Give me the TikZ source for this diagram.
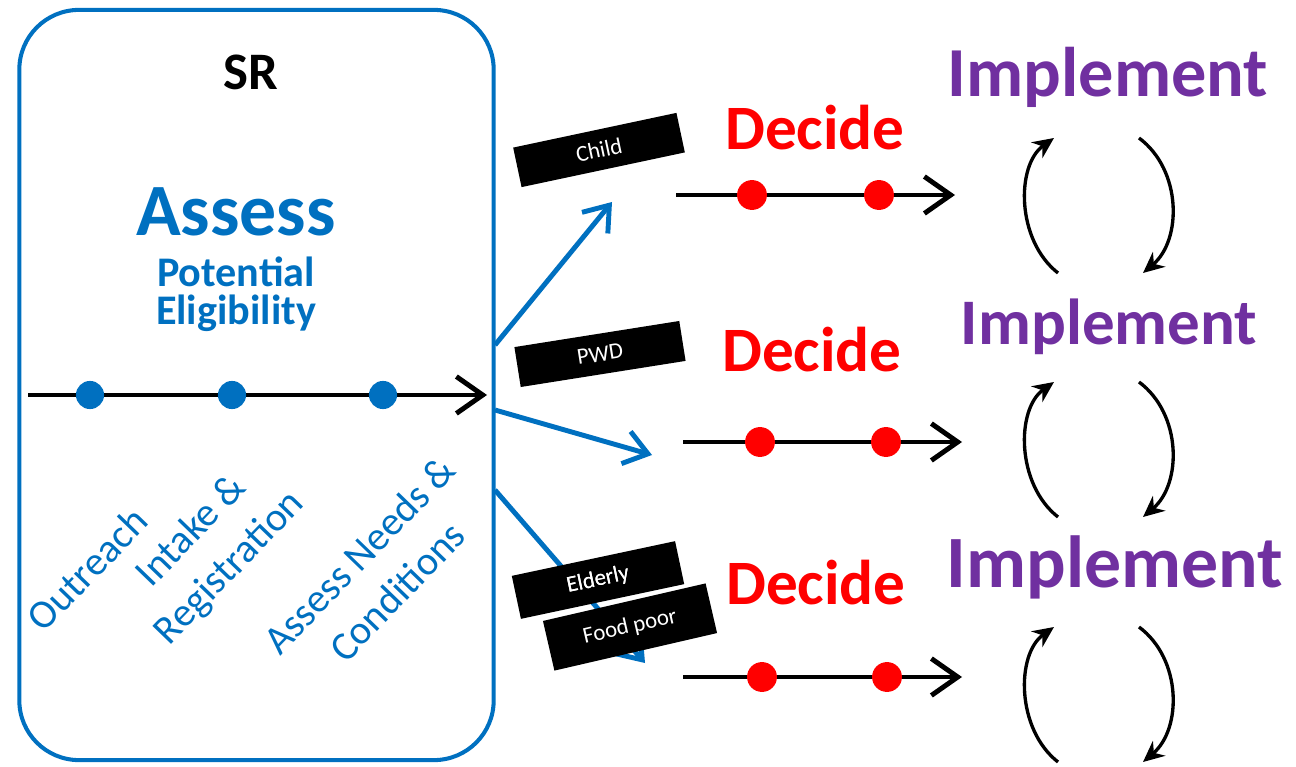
\documentclass[tikz,border=0pt]{standalone}
\usepackage{fontspec}
\setmainfont{Carlito}
\usetikzlibrary{arrows.meta}

\definecolor{srblue}{HTML}{0070C0}
\definecolor{decred}{HTML}{FF0000}
\definecolor{implpurple}{HTML}{7030A0}

\begin{document}
\begin{tikzpicture}[x=0.02cm, y=-0.02cm,
    flow/.style={line width=2.8pt, -{Straight Barb[length=15pt,width=21pt]}},
    branch/.style={draw=srblue, line width=2.8pt, -{Straight Barb[length=13pt,width=19pt]}},
    cycle/.style={line width=1.9pt, -{Stealth[length=12pt,width=11pt]}},
    bluedot/.style={circle, fill=srblue, inner sep=0pt, minimum size=16pt},
    reddot/.style={circle, fill=decred, inner sep=0pt, minimum size=17pt},
    tagbox/.style={fill=black, text=white, inner sep=0pt, minimum width=95pt,
      minimum height=23pt, font=\fontsize{13}{15}\selectfont},
    steplabel/.style={text=srblue, rotate=46, align=center,
      font=\fontsize{23}{30}\selectfont},
    decide/.style={text=decred, font=\bfseries\fontsize{36}{40}\selectfont},
    implement/.style={text=implpurple, font=\bfseries\fontsize{#1}{44}\selectfont}]
  \useasboundingbox (0,0) rectangle (1296,767);

  % SR box
  \node[draw=srblue, line width=2.3pt, rounded corners=34pt,
        minimum width=270pt, minimum height=427pt] (sr) at (256.5,385) {};
  \node[font=\bfseries\fontsize{30}{34}\selectfont] (srtitle) at (251,72) {SR};
  \node[text=srblue, font=\bfseries\fontsize{42}{46}\selectfont] (assess) at (236,212) {Assess};
  \node[text=srblue, font=\bfseries\fontsize{24}{28}\selectfont] (potential) at (236,272) {Potential};
  \node[text=srblue, font=\bfseries\fontsize{24}{28}\selectfont] (elig) at (236,313) {Eligibility};

  % timeline
  \coordinate (tlstart) at (28,395);
  \coordinate (tlend) at (487,395);
  \draw[flow] (tlstart) -- (tlend);
  \node[bluedot] (outdot) at (90,395) {};
  \node[bluedot] (intdot) at (232,395) {};
  \node[bluedot] (needdot) at (383,395) {};

  \node[steplabel] (outreach) at (87,569) {Outreach};
  \node[steplabel] (intake) at (211,550) {Intake \&\\Registration};
  \node[steplabel] (needs) at (378,573) {Assess Needs \&\\Conditions};

  % branches
  \coordinate (b1) at (495,345);
  \coordinate (b2) at (495,410);
  \coordinate (b3) at (495,490);
  \coordinate (e1) at (612,202);
  \coordinate (e2) at (652,455);
  \coordinate (e3) at (645,663);
  \draw[branch] (b1) -- (e1);
  \draw[branch] (b2) -- (e2);
  \draw[branch] (b3) -- (e3);

  \node[tagbox, rotate=12] (child) at (599,150) {Child};
  \node[tagbox, rotate=9] (pwd) at (600,354) {PWD};
  \node[tagbox, rotate=12, minimum height=25pt] (elderly) at (598,580) {Elderly};
  \node[tagbox, rotate=13, minimum height=29pt] (food) at (630,627) {Food poor};
  \node[text=white, rotate=12, font=\fontsize{13}{15}\selectfont] at (elderly) {Elderly};

  % decide lines
  \node[decide] (dec1) at (815,128) {Decide};
  \node[decide] (dec2) at (812,350) {Decide};
  \node[decide] (dec3) at (816,583) {Decide};

  \coordinate (d1s) at (676,195); \coordinate (d1e) at (955,195);
  \coordinate (d2s) at (683,442); \coordinate (d2e) at (962,442);
  \coordinate (d3s) at (683,677); \coordinate (d3e) at (962,677);
  \draw[flow] (d1s) -- (d1e);
  \draw[flow] (d2s) -- (d2e);
  \draw[flow] (d3s) -- (d3e);
  \node[reddot] (r1a) at (752,195) {};
  \node[reddot] (r1b) at (879,195) {};
  \node[reddot] (r2a) at (760,442) {};
  \node[reddot] (r2b) at (886,442) {};
  \node[reddot] (r3a) at (762,677) {};
  \node[reddot] (r3b) at (887,677) {};

  % implement cycles
  \node[implement=40] (imp1) at (1108,77) {Implement};
  \node[implement=37] (imp2) at (1109,327) {Implement};
  \node[implement=42] (imp3) at (1115,567) {Implement};

  \foreach \dy in {0,244,489} {
    \draw[cycle] (1058,273+\dy) .. controls (1016,240+\dy) and (1016,165+\dy) .. (1054,138+\dy);
    \draw[cycle] (1139,138+\dy) .. controls (1182,170+\dy) and (1182,240+\dy) .. (1143,273+\dy);
  }
\end{tikzpicture}
\end{document}
